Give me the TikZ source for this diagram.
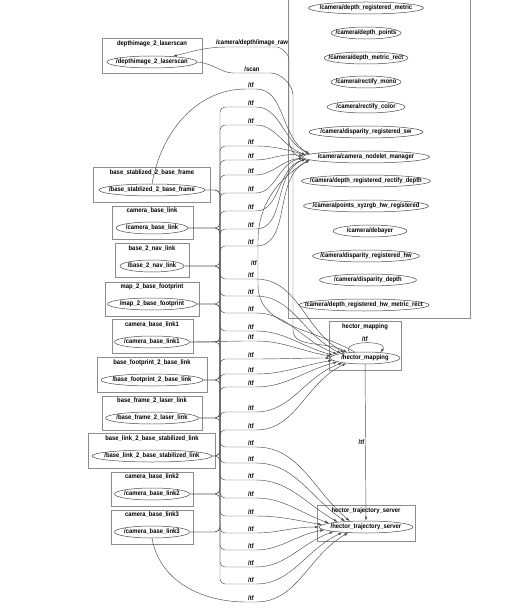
\documentclass[tikz,border=0pt]{standalone}
\usepackage{fontspec}
\setmainfont{Liberation Sans}[FakeStretch=0.89]
\usepackage{tikz}
\usetikzlibrary{shapes.geometric, arrows.meta}

\newcommand{\gvfont}{\fontsize{6.6}{7.5}\selectfont\bfseries}

\begin{document}
\begin{tikzpicture}[
    x=1pt, y=1pt,
    cluster/.style={draw=black!45, line width=0.6pt},
    ctitle/.style={font=\gvfont, inner sep=0pt},
    gvnode/.style={ellipse, draw=black!70, line width=0.5pt, inner xsep=-25pt, inner ysep=0pt, minimum height=12pt, minimum width=#1, font=\gvfont},
    lbl/.style={font=\gvfont, inner sep=1pt},
    tf/.style={draw=black!70, line width=0.45pt, rounded corners=5pt, -{Latex[length=4pt, width=2.6pt]}}
]
    \useasboundingbox (0,0) rectangle (528,-612);
    \fill[white] (0,0) rectangle (528,-612);
    \clip (0,0) rectangle (528,-612);

    % Camera cluster
    \draw[cluster] (288,-318) rectangle (470,20);
    \node (dregmetric) [gvnode=115pt] at (366,-8) {/camera/depth\_registered\_metric};
    \node (dpoints) [gvnode=70pt] at (366,-33) {/camera/depth\_points};
    \node (dmetricrect) [gvnode=84pt] at (366,-58) {/camera/depth\_metric\_rect};
    \node (rectmono) [gvnode=70pt] at (366,-82) {/camera/rectify\_mono};
    \node (rectcolor) [gvnode=78pt] at (366,-107) {/camera/rectify\_color};
    \node (dispregsw) [gvnode=114pt] at (366,-132) {/camera/disparity\_registered\_sw};
    \node (mgr) [gvnode=127pt] at (366,-157) {/camera/camera\_nodelet\_manager};
    \node (dregrectdepth) [gvnode=129pt] at (366,-181) {/camera/depth\_registered\_rectify\_depth};
    \node (ptsxyzrgb) [gvnode=125pt] at (366,-206) {/camera/points\_xyzrgb\_hw\_registered};
    \node (debayer) [gvnode=74pt] at (370,-231) {/camera/debayer};
    \node (dispreghw) [gvnode=107pt] at (366,-256) {/camera/disparity\_registered\_hw};
    \node (dispdepth) [gvnode=97pt] at (368,-280) {/camera/disparity\_depth};
    \node (dreghwmetric) [gvnode=130pt] at (364,-305) {/camera/depth\_registered\_hw\_metric\_rect};

    % Hector clusters
    \draw[cluster] (329,-321) rectangle (401,-370);
    \node (hmap_t) [ctitle] at (365,-327) {hector\_mapping};
    \node (hmap) [gvnode=70pt] at (365,-358) {/hector\_mapping};
    \draw[cluster] (317,-505) rectangle (415,-541);
    \node (hts_t) [ctitle] at (366,-511) {hector\_trajectory\_server};
    \node (hts) [gvnode=94pt] at (366,-527) {/hector\_trajectory\_server};

    % Laserscan cluster
    \draw[cluster] (102,-38) rectangle (202,-73);
    \node (dls_t) [ctitle] at (152,-44) {depthimage\_2\_laserscan};
    \node (dls) [gvnode=90pt] at (152,-62) {/depthimage\_2\_laserscan};

    % Static transform clusters
    \draw[cluster] (93,-167) rectangle (210,-202);
    \node (bsb_t) [ctitle] at (152,-173) {base\_stablized\_2\_base\_frame};
    \node (bsb) [gvnode=106pt] at (152,-190) {/base\_stablized\_2\_base\_frame};
    \draw[cluster] (112,-206) rectangle (193,-239);
    \node (cbl_t) [ctitle] at (152,-211) {camera\_base\_link};
    \node (cbl) [gvnode=72pt] at (152,-228) {/camera\_base\_link};
    \draw[cluster] (115,-243) rectangle (189,-277);
    \node (bnl_t) [ctitle] at (152,-249) {base\_2\_nav\_link};
    \node (bnl) [gvnode=64pt] at (152,-266) {/base\_2\_nav\_link};
    \draw[cluster] (105,-282) rectangle (199,-316);
    \node (mbf_t) [ctitle] at (152,-287) {map\_2\_base\_footprint};
    \node (mbf) [gvnode=89pt] at (152,-304) {/map\_2\_base\_footprint};
    \draw[cluster] (112,-319) rectangle (193,-353);
    \node (cbl1_t) [ctitle] at (152,-325) {camera\_base\_link1};
    \node (cbl1) [gvnode=75pt] at (152,-342) {/camera\_base\_link1};
    \draw[cluster] (97,-357) rectangle (207,-392);
    \node (bfb_t) [ctitle] at (152,-363) {base\_footprint\_2\_base\_link};
    \node (bfb) [gvnode=102pt] at (152,-380) {/base\_footprint\_2\_base\_link};
    \draw[cluster] (102,-396) rectangle (202,-430);
    \node (bfl_t) [ctitle] at (152,-401) {base\_frame\_2\_laser\_link};
    \node (bfl) [gvnode=93pt] at (152,-418) {/base\_frame\_2\_laser\_link};
    \draw[cluster] (88,-433) rectangle (215,-468);
    \node (bls_t) [ctitle] at (152,-439) {base\_link\_2\_base\_stabilized\_link};
    \node (bls) [gvnode=120pt] at (152,-456) {/base\_link\_2\_base\_stabilized\_link};
    \draw[cluster] (111,-472) rectangle (193,-506);
    \node (cbl2_t) [ctitle] at (152,-477) {camera\_base\_link2};
    \node (cbl2) [gvnode=75pt] at (152,-494) {/camera\_base\_link2};
    \draw[cluster] (111,-510) rectangle (193,-544);
    \node (cbl3_t) [ctitle] at (152,-515) {camera\_base\_link3};
    \node (cbl3) [gvnode=75pt] at (152,-532) {/camera\_base\_link3};

    % Depth image and scan
    \draw[tf] (mgr.west) to[out=180,in=-90] (289,-135) -- (289,-64) to[out=90,in=0] (272,-47) -- node[lbl,above]{/camera/depth/image\_raw} (232,-47) to[out=180,in=15] (dls.15);
    \draw[tf] (dls.east) to[out=-5,in=180] (238,-73) -- node[lbl,above]{/scan} (266,-73) to[out=0,in=90] (293,-100) -- (293,-325) to[out=-90,in=150] (hmap.163);

    % tf to camera nodelet manager
    \draw[tf] (bsb.north) to[out=80,in=180] (251,-89) node[lbl,above]{/tf} to[out=0,in=150] (mgr.177);
    \draw[tf] (cbl.east) -| (220,-107) -- (251,-107) node[lbl,above]{/tf} to[out=0,in=155] (mgr.177);
    \draw[tf] (bnl.east) -| (220,-125) -- (251,-125) node[lbl,above]{/tf} to[out=0,in=160] (mgr.178);
    \draw[tf] (mbf.east) -| (220,-146) -- (251,-146) node[lbl,above]{/tf} to[out=0,in=165] (mgr.178);
    \draw[tf] (cbl1.east) -| (220,-160) -- (251,-160) node[lbl,above]{/tf} to[out=0,in=170] (mgr.179);
    \draw[tf] (bfb.east) -| (220,-175) -- (251,-175) node[lbl,above]{/tf} to[out=0,in=185] (mgr.181);
    \draw[tf] (bfl.east) -| (220,-193) -- (251,-193) node[lbl,above]{/tf} to[out=0,in=190] (mgr.181);
    \draw[tf] (bls.east) -| (220,-211) -- (251,-211) node[lbl,above]{/tf} to[out=0,in=195] (mgr.182);
    \draw[tf] (cbl2.east) -| (220,-229) -- (251,-229) node[lbl,above]{/tf} to[out=0,in=200] (mgr.182);
    \draw[tf] (cbl3.east) -| (220,-246) -- (251,-246) node[lbl,above]{/tf} to[out=0,in=205] (mgr.183);
    \draw[tf] (hmap.150) to[out=150,in=-90] (258,-280) -- node[lbl,left]{/tf} (258,-246) to[out=90,in=210] (mgr.183);

    % tf to hector_mapping
    \draw[tf] (bsb.east) -| (220,-279) -- (251,-279) node[lbl,above]{/tf} to[out=0,in=150] (hmap.166);
    \draw[tf] (cbl.east) -| (220,-296) -- (251,-296) node[lbl,above]{/tf} to[out=0,in=155] (hmap.169);
    \draw[tf] (bnl.east) -| (220,-313) -- (251,-313) node[lbl,above]{/tf} to[out=0,in=160] (hmap.172);
    \draw[tf] (mbf.east) -| (220,-331) -- (251,-331) node[lbl,above]{/tf} to[out=0,in=165] (hmap.175);
    \draw[tf] (cbl1.east) to[out=0,in=180] (251,-341) node[lbl,above]{/tf} to[out=0,in=170] (hmap.177);
    \draw[tf] (bfb.east) -| (220,-359) -- (251,-359) node[lbl,above]{/tf} to[out=0,in=180] (hmap.180);
    \draw[tf] (bfl.east) -| (220,-374) -- (251,-374) node[lbl,above]{/tf} to[out=0,in=190] (hmap.184);
    \draw[tf] (bls.east) -| (220,-387) -- (251,-387) node[lbl,above]{/tf} to[out=0,in=195] (hmap.188);
    \draw[tf] (cbl2.east) -| (220,-412) -- (251,-412) node[lbl,above]{/tf} to[out=0,in=200] (hmap.192);
    \draw[tf] (cbl3.east) -| (220,-430) -- (251,-430) node[lbl,above]{/tf} to[out=0,in=205] (hmap.196);
    \draw[tf] (hmap.160) .. controls (340,-340) and (390,-340) .. node[lbl,above]{/tf} (hmap.20);

    % tf to hector_trajectory_server
    \draw[tf] (hmap) -- node[lbl,left]{/tf} (hts);
    \draw[tf] (bsb.east) -| (220,-447) -- (251,-447) node[lbl,above]{/tf} to[out=0,in=140] (hts.160);
    \draw[tf] (cbl.east) -| (220,-463) -- (251,-463) node[lbl,above]{/tf} to[out=0,in=145] (hts.165);
    \draw[tf] (bnl.east) -| (220,-480) -- (251,-480) node[lbl,above]{/tf} to[out=0,in=150] (hts.170);
    \draw[tf] (mbf.east) -| (220,-498) -- (251,-498) node[lbl,above]{/tf} to[out=0,in=160] (hts.174);
    \draw[tf] (cbl1.east) -| (220,-516) -- (251,-516) node[lbl,above]{/tf} to[out=0,in=170] (hts.177);
    \draw[tf] (bfb.east) -| (220,-533) -- (251,-533) node[lbl,above]{/tf} to[out=0,in=180] (hts.180);
    \draw[tf] (bfl.east) -| (220,-550) -- (251,-550) node[lbl,above]{/tf} to[out=0,in=190] (hts.184);
    \draw[tf] (bls.east) -| (220,-567) -- (251,-567) node[lbl,above]{/tf} to[out=0,in=200] (hts.188);
    \draw[tf] (cbl2.east) -| (220,-584) -- (251,-584) node[lbl,above]{/tf} to[out=0,in=205] (hts.193);
    \draw[tf] (cbl3.south) to[out=-80,in=180] (251,-602) node[lbl,above]{/tf} to[out=0,in=210] (hts.198);

\end{tikzpicture}
\end{document}
